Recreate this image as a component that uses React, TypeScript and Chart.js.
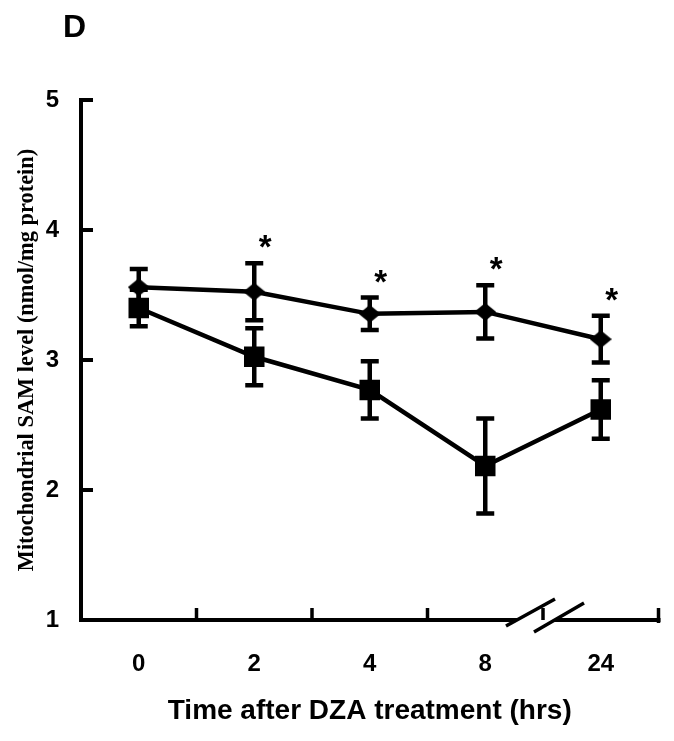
import React, { useEffect, useRef } from "react";
import { Chart, registerables } from "chart.js";

Chart.register(...registerables);

// ---- data ----
const categories = ["0", "2", "4", "8", "24"];
const diamondMeans = [3.56, 3.525, 3.355, 3.37, 3.16];
const diamondErrors = [0.14, 0.22, 0.125, 0.205, 0.18];
const squareMeans = [3.4, 3.025, 2.77, 2.185, 2.62];
const squareErrors = [0.14, 0.22, 0.22, 0.365, 0.225];
const diamondSignificant = [false, true, true, true, true];
const yTickValues = [1, 2, 3, 4, 5];
const panelLabel = "D";
const xTitle = "Time after DZA treatment (hrs)";
const yTitle = "Mitochondrial SAM level (nmol/mg protein)";

const SANS = '"Liberation Sans", Arial, Helvetica, sans-serif';
const SERIF = '"Liberation Serif", "Times New Roman", Times, serif';

function makeDiamond(): HTMLCanvasElement {
  const c = document.createElement("canvas");
  c.width = 22;
  c.height = 18;
  const g = c.getContext("2d")!;
  g.fillStyle = "#000";
  g.beginPath();
  g.moveTo(0, 9);
  g.lineTo(11, 0);
  g.lineTo(22, 9);
  g.lineTo(11, 18);
  g.closePath();
  g.fill();
  return c;
}

const decorPlugin = {
  id: "decor",
  beforeDatasetsDraw(chart: any) {
    const { ctx, chartArea } = chart;
    const x = chart.scales.x;
    const y = chart.scales.y;
    const L = chartArea.left;
    const R = chartArea.right;
    const B = chartArea.bottom;
    const T = chartArea.top;
    ctx.save();
    ctx.strokeStyle = "#000";
    ctx.lineCap = "butt";

    // axis lines
    ctx.lineWidth = 4;
    ctx.beginPath();
    ctx.moveTo(L, T - 2);
    ctx.lineTo(L, B + 2);
    ctx.moveTo(L - 2, B);
    ctx.lineTo(R + 2, B);
    ctx.stroke();

    // y ticks (inward)
    yTickValues.forEach((v) => {
      if (v === y.min) return;
      const py = y.getPixelForValue(v);
      ctx.beginPath();
      ctx.moveTo(L, py);
      ctx.lineTo(L + 12, py);
      ctx.stroke();
    });

    // axis break between the last two categories
    const n = categories.length;
    const bx = (x.getPixelForValue(n - 2) + x.getPixelForValue(n - 1)) / 2;
    const by = B;
    ctx.fillStyle = "#fff";
    ctx.beginPath();
    ctx.moveTo(bx - 37, by + 6);
    ctx.lineTo(bx + 12, by - 21);
    ctx.lineTo(bx + 41, by - 17);
    ctx.lineTo(bx - 9, by + 12);
    ctx.closePath();
    ctx.fill();

    // x ticks at category boundaries (inward)
    ctx.lineWidth = 3.5;
    for (let i = 0; i < n; i++) {
      const px =
        i < n - 1
          ? (x.getPixelForValue(i) + x.getPixelForValue(i + 1)) / 2
          : R;
      ctx.beginPath();
      ctx.moveTo(px, B - 12);
      ctx.lineTo(px, i < n - 1 ? B : B + 3);
      ctx.stroke();
    }

    // break slashes
    ctx.lineWidth = 3.5;
    ctx.beginPath();
    ctx.moveTo(bx - 37, by + 6);
    ctx.lineTo(bx + 12, by - 21);
    ctx.moveTo(bx - 9, by + 12);
    ctx.lineTo(bx + 41, by - 17);
    ctx.stroke();

    // error bars
    ctx.lineWidth = 4.5;
    const drawErr = (means: number[], errs: number[]) => {
      means.forEach((m, i) => {
        const px = x.getPixelForValue(i);
        const top = y.getPixelForValue(m + errs[i]);
        const bot = y.getPixelForValue(m - errs[i]);
        ctx.beginPath();
        ctx.moveTo(px, top);
        ctx.lineTo(px, bot);
        ctx.moveTo(px - 9, top);
        ctx.lineTo(px + 9, top);
        ctx.moveTo(px - 9, bot);
        ctx.lineTo(px + 9, bot);
        ctx.stroke();
      });
    };
    drawErr(diamondMeans, diamondErrors);
    drawErr(squareMeans, squareErrors);
    ctx.restore();
  },
  afterDatasetsDraw(chart: any) {
    const { ctx } = chart;
    const x = chart.scales.x;
    const y = chart.scales.y;
    ctx.save();
    ctx.fillStyle = "#000";
    ctx.textAlign = "center";
    ctx.textBaseline = "alphabetic";
    ctx.font = `bold 33px ${SANS}`;
    diamondSignificant.forEach((s, i) => {
      if (!s) return;
      const px = x.getPixelForValue(i) + 11;
      const top = y.getPixelForValue(diamondMeans[i] + diamondErrors[i]);
      ctx.fillText("*", px, top - 24 + 19);
    });
    ctx.textAlign = "left";
    ctx.font = `bold 32px ${SANS}`;
    ctx.fillText(panelLabel, 63, 37);
    ctx.restore();
  },
};

export default function App() {
  const ref = useRef<HTMLCanvasElement | null>(null);
  useEffect(() => {
    if (!ref.current) return;
    const diamond = makeDiamond();
    const chart = new Chart(ref.current, {
      type: "line",
      data: {
        labels: categories,
        datasets: [
          {
            label: "diamond",
            data: diamondMeans,
            borderColor: "#000",
            backgroundColor: "#000",
            borderWidth: 4.5,
            pointStyle: diamond as any,
            pointRadius: 11,
            tension: 0,
          },
          {
            label: "square",
            data: squareMeans,
            borderColor: "#000",
            backgroundColor: "#000",
            borderWidth: 4.5,
            pointStyle: "rect",
            pointRadius: 14.5,
            pointBorderWidth: 0,
            tension: 0,
          },
        ],
      },
      options: {
        animation: false,
        responsive: false,
        events: [],
        layout: { padding: { top: 100, right: 13, left: 0, bottom: 0 } },
        plugins: {
          legend: { display: false },
          tooltip: { enabled: false },
        },
        scales: {
          x: {
            type: "category",
            offset: true,
            grid: { display: false, drawTicks: false },
            border: { display: false },
            afterFit: (scale: any) => {
              scale.height = 121;
            },
            ticks: {
              color: "#000",
              font: { family: SANS, size: 24, weight: "bold" },
              padding: 30,
              maxRotation: 0,
              autoSkip: false,
            },
            title: {
              display: true,
              text: xTitle,
              color: "#000",
              font: { family: SANS, size: 28, weight: "bold" },
              padding: { top: 16, bottom: 13.2 },
            },
          },
          y: {
            min: 1,
            max: 5,
            grid: { display: false, drawTicks: false },
            border: { display: false },
            afterFit: (scale: any) => {
              scale.width = 81;
            },
            afterBuildTicks: (scale: any) => {
              scale.ticks = yTickValues.map((v) => ({ value: v }));
            },
            ticks: {
              color: "#000",
              font: { family: SANS, size: 24, weight: "bold" },
              padding: 22,
            },
            title: {
              display: true,
              text: yTitle,
              color: "#000",
              font: { family: SERIF, size: 22.4, weight: "bold" },
              padding: { top: 14.2, bottom: 0 },
            },
          },
        },
      },
      plugins: [decorPlugin],
    } as any);
    return () => chart.destroy();
  }, []);
  return (
    <div style={{ position: "absolute", left: 0, top: 0, width: 674, height: 741, background: "#fff" }}>
      <canvas ref={ref} width={674} height={741} />
    </div>
  );
}
